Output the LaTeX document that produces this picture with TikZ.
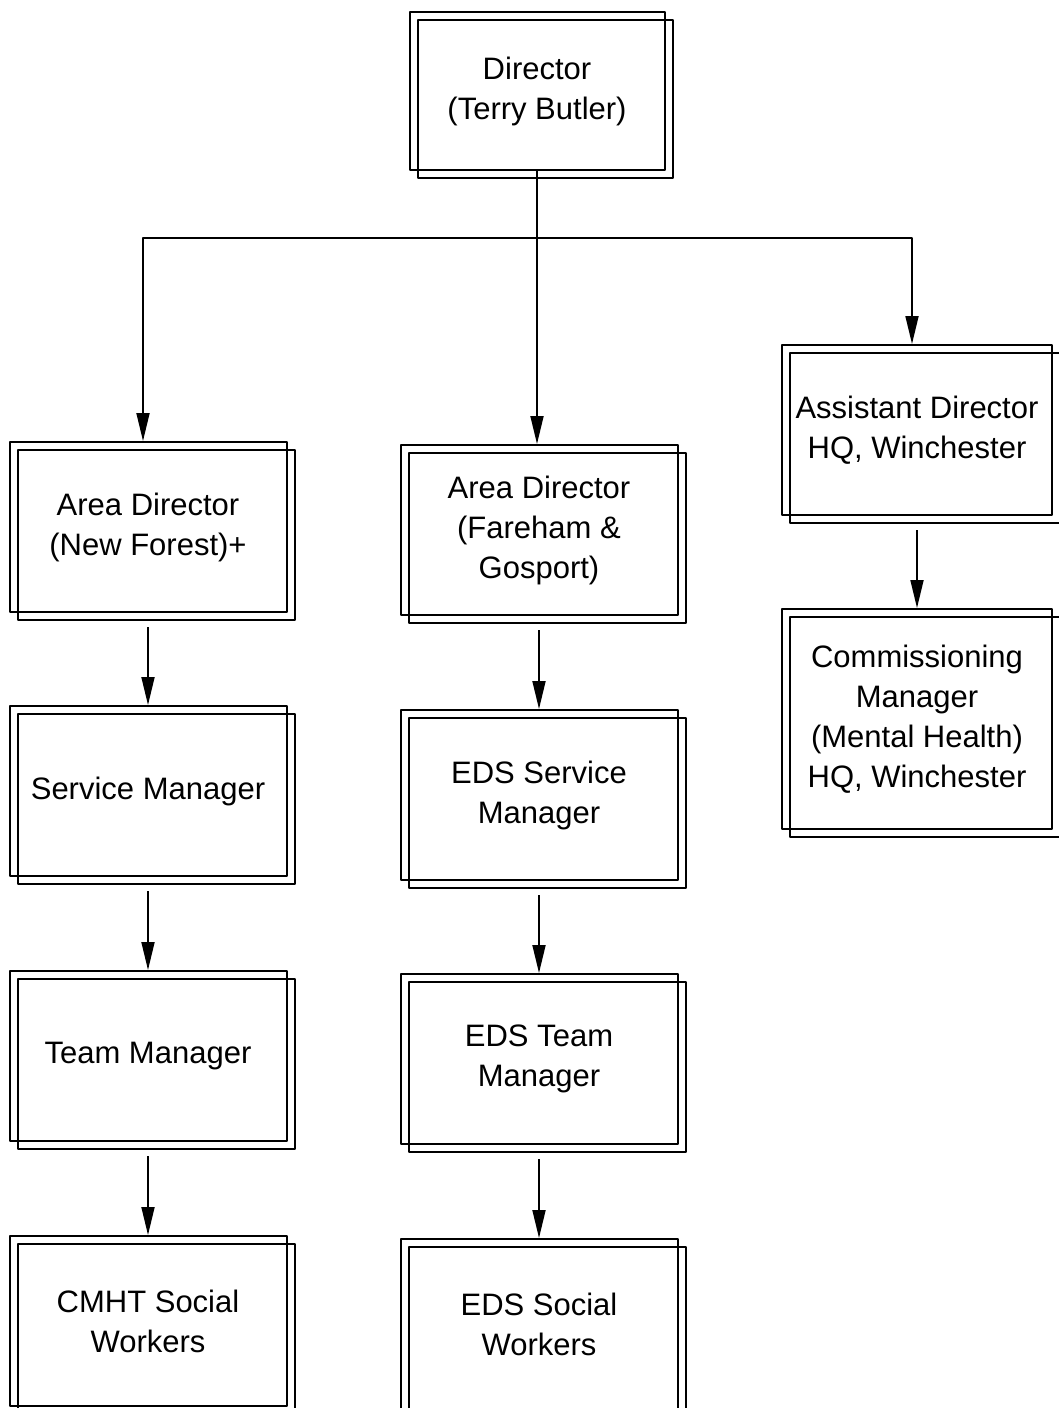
\documentclass[tikz,border=0pt]{standalone}
\usepackage{fontspec}
\setmainfont{Liberation Sans}
\usetikzlibrary{arrows.meta,positioning,shadows}

\begin{document}
\begin{tikzpicture}[x=1pt, y=-1pt, line join=round, >={Triangle[length=28pt,width=13pt]},
    font=\fontsize{31}{40}\selectfont,
    post/.style={draw, line width=2pt, minimum width=277pt, minimum height=170pt, align=center,
        copy shadow={shadow xshift=8pt, shadow yshift=-8pt, fill=none, draw, line width=2pt}},
    link/.style={->, line width=1.8pt}]
    \useasboundingbox (0,0) rectangle (1058,1408);
    % top of the chart
    \node[post, minimum width=255pt, minimum height=158pt] (dir) at (537,91) {Director\\(Terry Butler)};
    \node[post] (adnf) at (148,527) {Area Director\\(New Forest)+};
    \node[post] (adfg) at (539,530) {Area Director\\(Fareham \&\\Gosport)};
    \node[post, minimum width=270pt] (asst) at (917,430) {Assistant Director\\HQ, Winchester};
    \node[post, minimum width=270pt, minimum height=220pt] (comm) at (917,719) {Commissioning\\Manager\\(Mental Health)\\HQ, Winchester};
    % left column
    \node[post, below=92pt of adnf] (sm) {Service Manager};
    \node[post, below=93pt of sm] (tm) {Team Manager};
    \node[post, below=93pt of tm] (cmht) {CMHT Social\\Workers};
    % middle column
    \node[post, below=93pt of adfg] (esm) {EDS Service\\Manager};
    \node[post, below=92pt of esm] (etm) {EDS Team\\Manager};
    \node[post, below=93pt of etm] (esw) {EDS Social\\Workers};
    % connectors
    \coordinate (hub) at (537,238);
    \draw[line width=1.8pt] (dir.south) -- (hub);
    \draw[link] (hub) -- (hub |- adfg.north);
    \draw[link] (hub) -| ([xshift=-5pt]adnf.north);
    \draw[link] (hub) -| ([xshift=-5pt]asst.north);
    \foreach \a/\b in {adnf/sm,sm/tm,tm/cmht,adfg/esm,esm/etm,etm/esw,asst/comm}
    \draw[link, shorten <=14pt] (\a) -- (\b);
\end{tikzpicture}
\end{document}
